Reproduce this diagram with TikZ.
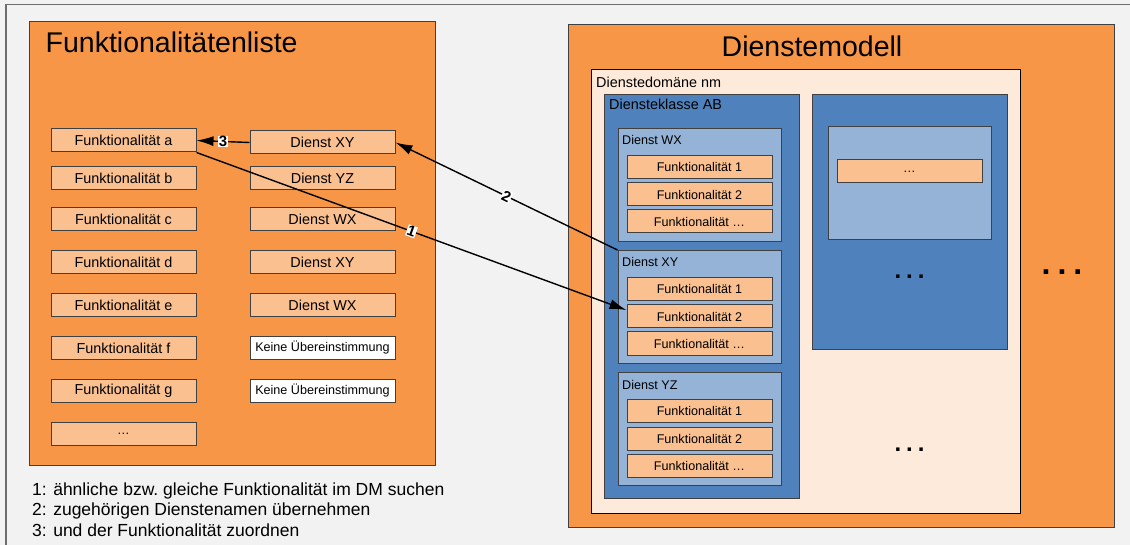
\documentclass[tikz,border=0pt]{standalone}
\usepackage{fontspec}
\setmainfont{Liberation Sans}
\usetikzlibrary{arrows.meta}
\definecolor{dmbg}{HTML}{F2F2F2}
\definecolor{dmframe}{HTML}{6E6E6E}
\definecolor{dmorange}{HTML}{F79646}
\definecolor{dmlight}{HTML}{FAC090}
\definecolor{dmpale}{HTML}{FDEADA}
\definecolor{dmblue}{HTML}{4F81BD}
\definecolor{dmlblue}{HTML}{95B3D7}
\definecolor{dmedge}{HTML}{404040}
\newcommand\dmdots[1]{.\kern#1.\kern#1.}
\tikzset{
  plainbox/.style={draw=dmedge, line width=1pt, inner sep=0pt},
  panel/.style={plainbox, fill=dmorange},
  domainbox/.style={plainbox, draw=black, fill=dmpale},
  klassebox/.style={plainbox, fill=dmblue, minimum width=195},
  dienstbox/.style={plainbox, fill=dmlblue, minimum width=163, minimum height=113},
  funcbox/.style={plainbox, fill=dmlight, minimum width=145, minimum height=23,
    font=\fontsize{14.4}{17}\selectfont},
  smallfunc/.style={funcbox, font=\fontsize{12.6}{15}\selectfont},
  keinebox/.style={funcbox, fill=white, font=\fontsize{12.6}{15}\selectfont},
  titletext/.style={inner sep=0pt, font=\fontsize{28.5}{32}\selectfont},
  labeltext/.style={inner sep=0pt, font=\fontsize{14.4}{17}\selectfont},
  smalllabel/.style={inner sep=0pt, font=\fontsize{12.6}{15}\selectfont},
  notetext/.style={inner sep=0pt, font=\fontsize{17.5}{21}\selectfont},
  dots/.style={inner sep=0pt, anchor=base, font=\fontsize{24}{26}\selectfont\bfseries},
  bigdots/.style={dots, font=\fontsize{32}{34}\selectfont\bfseries},
  numlabel/.style={fill=white, inner sep=0.6pt, font=\fontsize{15}{16}\selectfont\bfseries},
  link/.style={->, line width=1.4pt}
}
\begin{document}
\begin{tikzpicture}[x=1pt,y=-1pt,>={Latex[length=17pt,width=10pt]}]
\useasboundingbox (0,0) rectangle (1130,545);
\fill[dmbg] (0,0) rectangle (1130,545);
\draw[dmframe,line width=1.2pt] (6,545) -- (6,4.5) -- (1130,4.5);

% Funktionalitaetenliste
\node[panel, minimum width=406.5, minimum height=443.5] (liste) at (232.25,243.75) {};
\node[titletext, anchor=base west] (listetitel) at (45.5,53) {Funktionalitätenliste};
\node[funcbox] (fa) at (123.5,140.5) {Funktionalität a};
\node[funcbox] (fb) at (123.5,178.5) {Funktionalität b};
\node[funcbox] (fc) at (123.5,219.5) {Funktionalität c};
\node[funcbox] (fd) at (123.5,262) {Funktionalität d};
\node[funcbox] (fe) at (123.5,305) {Funktionalität e};
\node[funcbox] (ff) at (123.5,348) {Funktionalität f};
\node[funcbox] (fg) at (123.5,391) {Funktionalität g};
\node[smallfunc] (fmore) at (123.5,434) {…};
\node[funcbox] (da) at (322.5,142.5) {Dienst XY};
\node[funcbox] (db) at (322.5,178.5) {Dienst YZ};
\node[funcbox] (dc) at (322.5,219.5) {Dienst WX};
\node[funcbox] (dd) at (322.5,262) {Dienst XY};
\node[funcbox] (de) at (322.5,305) {Dienst WX};
\node[keinebox] (df) at (322.5,348) {Keine Übereinstimmung};
\node[keinebox] (dg) at (322.5,391) {Keine Übereinstimmung};

% Dienstemodell
\node[panel, minimum width=546, minimum height=502] (modell) at (841,276) {};
\node[titletext, anchor=base] (modelltitel) at (812,57) {Dienstemodell};
\node[domainbox, minimum width=429.5, minimum height=443] (dom) at (805.75,291.5) {};
\node[labeltext, anchor=base west] (domlabel) at (596,88) {Dienstedomäne nm};
\node[klassebox, minimum height=403] (kab) at (701.5,296.5) {};
\node[labeltext, anchor=base west] (kablabel) at (609,110) {Diensteklasse AB};
\node[klassebox, minimum height=255] (kmore) at (909.5,222.5) {};
\node[dienstbox] (dmore) at (909.5,183.5) {};
\node[smallfunc] (dmoref) at (909.5,171.5) {…};
\node[dots] (kmoredots) at (909.5,279) {\dmdots{5pt}};
\node[dots] (domdots) at (909.5,451) {\dmdots{5pt}};
\node[bigdots] (modelldots) at (1062,275) {\dmdots{7pt}};

% Dienst WX
\node[dienstbox] (wx) at (699.5,185.5) {};
\node[smalllabel, anchor=base west] (wxlabel) at (622,145) {Dienst WX};
\node[smallfunc] (wx1) at (699.5,167) {Funktionalität 1};
\node[smallfunc] (wx2) at (699.5,194.5) {Funktionalität 2};
\node[smallfunc] (wx3) at (699.5,221.5) {Funktionalität …};
% Dienst XY
\node[dienstbox] (xy) at (699.5,307) {};
\node[smalllabel, anchor=base west] (xylabel) at (622,267) {Dienst XY};
\node[smallfunc] (xy1) at (699.5,289) {Funktionalität 1};
\node[smallfunc] (xy2) at (699.5,316.5) {Funktionalität 2};
\node[smallfunc] (xy3) at (699.5,343.5) {Funktionalität …};
% Dienst YZ
\node[dienstbox] (yz) at (699.5,429) {};
\node[smalllabel, anchor=base west] (yzlabel) at (622,389) {Dienst YZ};
\node[smallfunc] (yz1) at (699.5,411) {Funktionalität 1};
\node[smallfunc] (yz2) at (699.5,438.5) {Funktionalität 2};
\node[smallfunc] (yz3) at (699.5,465.5) {Funktionalität …};

% Zuordnung
\draw[link] (fa.south east) -- node[numlabel, sloped]{1} (xy2.175);
\draw[link] (xy.north west) -- node[numlabel, sloped]{2} (da.east);
\draw[link] (da.west) -- node[numlabel]{3} (fa.east);

% Legende
\node[notetext, anchor=base west] (note1) at (32,495) {1: ähnliche bzw.\ gleiche Funktionalität im DM suchen};
\node[notetext, anchor=base west] (note2) at (32,515.5) {2: zugehörigen Dienstenamen übernehmen};
\node[notetext, anchor=base west] (note3) at (32,536) {3: und der Funktionalität zuordnen};
\end{tikzpicture}
\end{document}
